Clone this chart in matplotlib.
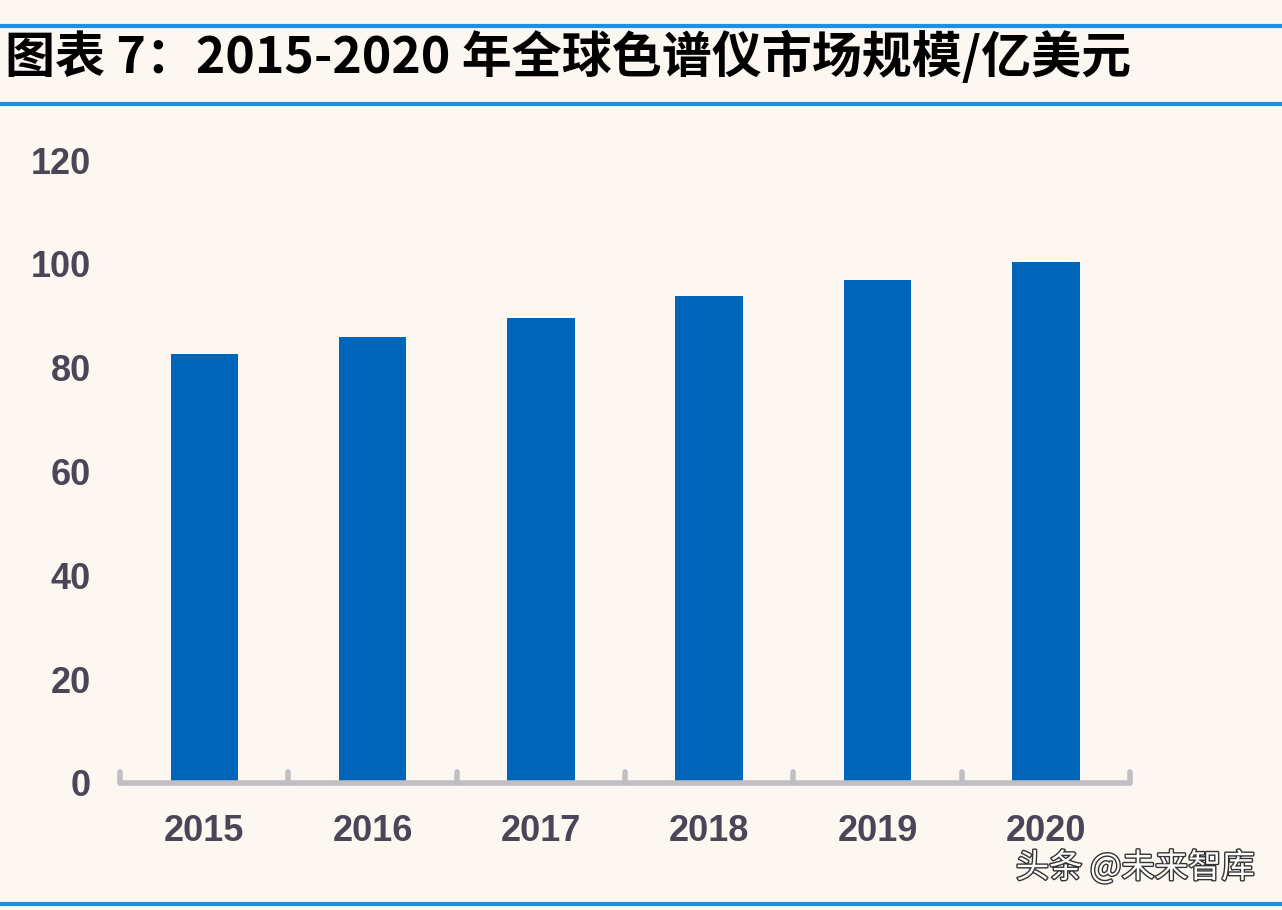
import matplotlib
matplotlib.use('Agg')
import matplotlib.pyplot as plt
import matplotlib.patheffects as pe
import numpy as np

plt.rcParams['font.family'] = ['Liberation Sans', 'Noto Sans CJK SC', 'DejaVu Sans']

years = ['2015', '2016', '2017', '2018', '2019', '2020']
market = [82.6, 85.9, 89.6, 93.8, 96.9, 100.4]
yticks = [0, 20, 40, 60, 80, 100, 120]

bg = '#fcf8f1'
bar_color = '#0066b9'
label_color = '#4b4558'
axis_color = '#bfbfc4'
rule_color = '#1f8fe0'

fig = plt.figure(figsize=(12.82, 9.10), dpi=100, facecolor=bg)
ax = fig.add_axes([120 / 1282, 1 - 783 / 910, 1010 / 1282, 623 / 910])
ax.set_facecolor(bg)

x = np.arange(len(years))
ax.bar(x, market, width=0.4, color=bar_color, zorder=2)

ax.set_xlim(-0.5, len(years) - 0.5)
ax.set_ylim(0, 120)
ax.set_yticks(yticks)
ax.set_yticklabels([str(v) for v in yticks])
ax.set_xticks(x)
ax.set_xticklabels(years)

for s in ['top', 'right', 'left']:
    ax.spines[s].set_visible(False)
ax.spines['bottom'].set_color(axis_color)
ax.spines['bottom'].set_linewidth(4)
ax.spines['bottom'].set_capstyle('round')

ax.tick_params(axis='both', length=0, labelsize=26, labelcolor=label_color)
ax.tick_params(axis='y', pad=21)
ax.tick_params(axis='x', pad=22)
for t in ax.get_xticklabels() + ax.get_yticklabels():
    t.set_fontweight('bold')

# small upward ticks at category boundaries
for b in np.arange(-0.5, len(years), 1.0):
    ax.plot([b, b], [0, 2.2], color=axis_color, lw=4, solid_capstyle='round',
            clip_on=False, zorder=3)

# title and rules
fig.add_artist(plt.Line2D([0, 1], [1 - 26 / 910, 1 - 26 / 910], color=rule_color, lw=3))
fig.add_artist(plt.Line2D([0, 1], [1 - 104 / 910, 1 - 104 / 910], color=rule_color, lw=3))
fig.add_artist(plt.Line2D([0, 1], [1 - 904 / 910, 1 - 904 / 910], color=rule_color, lw=3))
fig.text(5 / 1282, 1 - 57 / 910, '图表 7：2015-2020 年全球色谱仪市场规模/亿美元',
         fontsize=36, fontweight='bold', style='italic', color='black',
         va='center', ha='left', family=['Noto Sans CJK SC', 'DejaVu Sans'])

wm = fig.text(1255 / 1282, 1 - 868 / 910, '头条 @未来智库', fontsize=24,
              color='white', ha='right', va='center',
              family=['Noto Sans CJK SC', 'DejaVu Sans'])
wm.set_path_effects([pe.withStroke(linewidth=2, foreground='#333333')])

fig.savefig('out.png', dpi=100, facecolor=bg)
